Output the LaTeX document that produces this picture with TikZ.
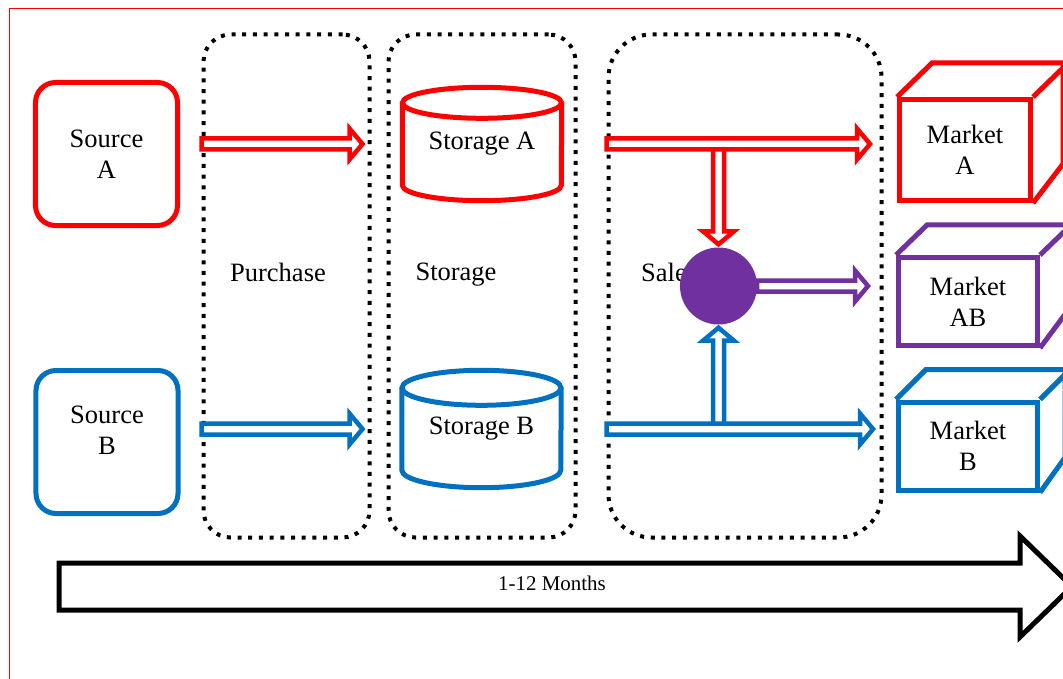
\documentclass[tikz,border=0pt]{standalone}
\usepackage{fontspec}
\setmainfont{Liberation Serif}
\usepackage{xcolor}
\definecolor{srcred}{RGB}{255, 0, 0}
\definecolor{srcblue}{RGB}{0, 112, 192}
\definecolor{mixpurple}{RGB}{112, 48, 160}
\usepackage{tikz}
\usetikzlibrary{positioning, calc}

\begin{document}
\begin{tikzpicture}[x=1bp, y=-1bp, font=\fontsize{26.6}{31}\selectfont]

  \tikzstyle{srcbox} = [
    rounded corners=20bp, line width=5bp,
    minimum width=142bp, minimum height=143bp,
    align=center
  ]
  \tikzstyle{grpbox} = [
    draw=black, line width=4bp, dash pattern=on 4bp off 6.7bp,
    rounded corners=27bp, minimum height=503bp
  ]
  \tikzstyle{storebody} = [minimum width=159bp, minimum height=113bp]
  \tikzstyle{storeline} = [line width=5bp]
  \tikzstyle{mktbox} = [
    draw, line width=5bp, line join=miter,
    minimum width=139bp, minimum height=88bp, align=center
  ]
  \tikzstyle{mktedge} = [line width=5bp, line join=miter]
  \tikzstyle{flow} = [
    line width=4.5bp, fill=white, line join=miter,
    to path={($(\tikztostart)!5.5bp!90:(\tikztotarget)$)
      -- ($(\tikztotarget)!13bp!(\tikztostart)!5.5bp!-90:(\tikztostart)$)
      -- ($(\tikztotarget)!13bp!(\tikztostart)!15.5bp!-90:(\tikztostart)$)
      -- (\tikztotarget)
      -- ($(\tikztotarget)!13bp!(\tikztostart)!15.5bp!90:(\tikztostart)$)
      -- ($(\tikztotarget)!13bp!(\tikztostart)!5.5bp!90:(\tikztostart)$)
      -- ($(\tikztostart)!5.5bp!-90:(\tikztotarget)$)
      -- cycle}
  ]

  \path[use as bounding box, clip] (0,0) rectangle (1063,679);
  \fill[white] (0,0) rectangle (1063,679);
  \draw[srcred, line width=1.5bp] (9.5,8.5) rectangle (1090,700);

  % sources
  \node[srcbox, draw=srcred] (sA) at (106.5,154) {Source\\A};
  \node[srcbox, draw=srcblue,
        label={[align=center, yshift=12bp]center:Source\\B}] (sB) at (107,442) {};

  % dotted stages
  \node[grpbox, minimum width=166bp] (pur) at (286.5,286) {};
  \node[grpbox, minimum width=187bp] (sto) at (482,286) {};
  \node[grpbox, minimum width=273bp, rounded corners=43bp] (sal) at (745,286) {};

  \node (lpur) at (278,272) {Purchase};
  \node (lsto) at (456,275) {Storage};
  \node[anchor=west, inner sep=0pt] (lsal) at (641,272) {Sale};

  % storage tanks
  \node[storebody] (stA) at (482,144) {Storage A};
  \draw[storeline, srcred] ([yshift=-15.5bp]stA.north) ellipse [x radius=79.5bp, y radius=15.5bp];
  \draw[storeline, srcred] ([yshift=-15.5bp]stA.north west) -- ([yshift=15.5bp]stA.south west)
    arc[start angle=180, end angle=360, x radius=79.5bp, y radius=15.5bp]
    -- ([yshift=-15.5bp]stA.north east);

  \node[storebody, minimum height=117bp] (stB) at (481.5,429) {Storage B};
  \draw[storeline, srcblue] ([yshift=-17.5bp]stB.north) ellipse [x radius=79.5bp, y radius=17.5bp];
  \draw[storeline, srcblue] ([yshift=-17.5bp]stB.north west) -- ([yshift=17.5bp]stB.south west)
    arc[start angle=180, end angle=360, x radius=79.5bp, y radius=17.5bp]
    -- ([yshift=-17.5bp]stB.north east);

  % markets
  \node[mktbox, draw=srcred, minimum width=131bp, minimum height=101bp] (mA) at (965,150) {Market\\A};
  \draw[mktedge, srcred] (mA.north west) -- ++(35,-34) -- ++(131,0) -- ++(0,101) -- (mA.south east);
  \draw[mktedge, srcred] (mA.north east) -- ++(35,-34);

  \node[mktbox, draw=mixpurple] (mAB) at (968,301.5) {Market\\AB};
  \draw[mktedge, mixpurple] (mAB.north west) -- ++(31,-30) -- ++(139,0) -- ++(0,88) -- (mAB.south east);
  \draw[mktedge, mixpurple] (mAB.north east) -- ++(31,-30);

  \node[mktbox, draw=srcblue] (mB) at (968,446) {Market\\B};
  \draw[mktedge, srcblue] (mB.north west) -- ++(30,-30) -- ++(139,0) -- ++(0,88) -- (mB.south east);
  \draw[mktedge, srcblue] (mB.north east) -- ++(30,-30);

  % blending point
  \node[circle, fill=mixpurple, minimum size=77bp, inner sep=0pt] (mix) at (718.5,286) {};

  % arrow ends
  \coordinate (a1s) at (pur.west |- stA);
  \coordinate (a1t) at ($(sto.west |- stA)+(-24,0)$);
  \coordinate (a2s) at (pur.west |- stB);
  \coordinate (a2t) at ($(sto.west |- stB)+(-24,0)$);
  \coordinate (a3s) at (sal.west |- stA);
  \coordinate (a3t) at ($(mA.west |- stA)+(-27,0)$);
  \coordinate (a4s) at (sal.west |- stB);
  \coordinate (a4t) at ($(mB.west |- stB)+(-23,0)$);
  \coordinate (jA) at (mix |- stA);
  \coordinate (jB) at (mix |- stB);
  \coordinate (jAt) at ([yshift=3bp]mix.north);
  \coordinate (jBt) at ([yshift=-3bp]mix.south);
  \coordinate (a5t) at ($(mAB.west |- mix)+(-28,0)$);

  \draw[flow, draw=srcred] (a1s) to (a1t);
  \draw[flow, draw=srcblue] (a2s) to (a2t);
  \draw[flow, draw=srcred] (jA) to (jAt);
  \draw[flow, draw=srcred] (a3s) to (a3t);
  \draw[flow, draw=srcblue] (jB) to (jBt);
  \draw[flow, draw=srcblue] (a4s) to (a4t);
  \draw[flow, draw=mixpurple] (mix.east) to (a5t);

  % time line
  \draw[line width=5bp, line join=miter] (59,563) -- (1020,563) -- (1020,536) -- (1072,586.5)
    -- (1020,637) -- (1020,610) -- (59,610) -- cycle;
  \node[font=\fontsize{21}{25}\selectfont] (span) at (552,583) {1-12 Months};

\end{tikzpicture}
\end{document}
